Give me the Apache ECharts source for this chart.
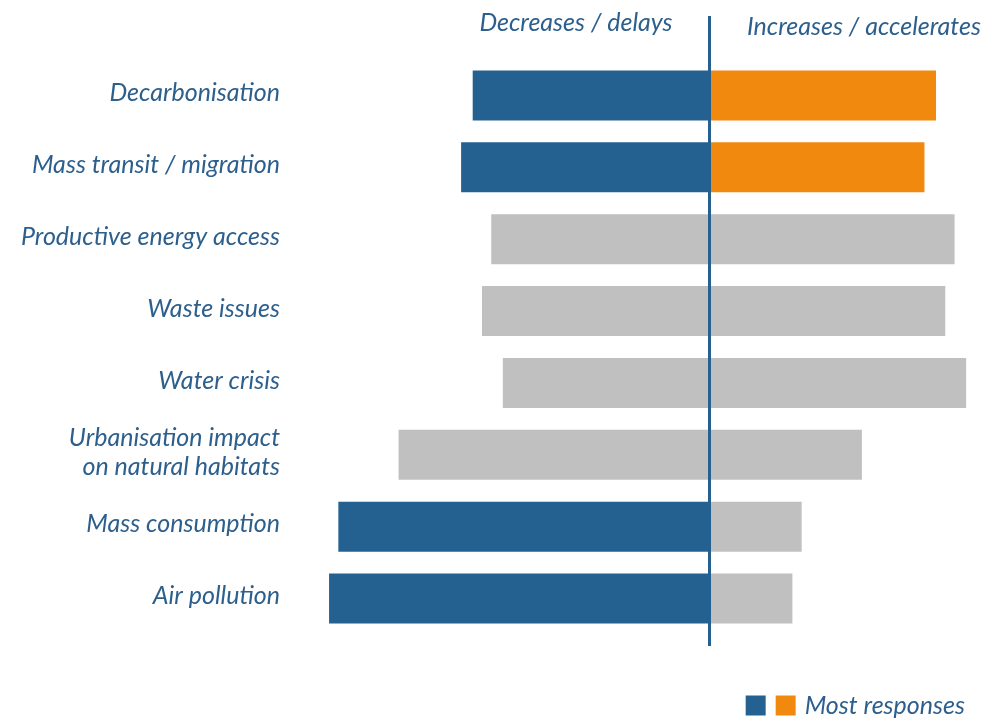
<!DOCTYPE html>
<html>
<head>
<meta charset="utf-8">
<script src="https://cdn.jsdelivr.net/npm/echarts@6/dist/echarts.min.js"></script>
<style>
html,body{margin:0;padding:0;background:#fff;}
#chart{width:987px;height:722px;}
</style>
</head>
<body>
<div id="chart"></div>
<script>
// Data (share of responses, %)
const categories = [
  'Decarbonisation',
  'Mass transit / migration',
  'Productive energy access',
  'Waste issues',
  'Water crisis',
  'Urbanisation impact\non natural habitats',
  'Mass consumption',
  'Air pollution'
];
const decreases = [51, 53.5, 47, 49, 44.5, 67, 80, 82];
const increases = [49, 46.5, 53, 51, 55.5, 33, 20, 18];
// 1 = "most responses" highlight
const decHighlight = [1, 1, 0, 0, 0, 0, 1, 1];
const incHighlight = [1, 1, 0, 0, 0, 0, 0, 0];
const headerLabels = ['Decreases / delays', 'Increases / accelerates'];
const legendLabel = 'Most responses';

const BLUE = '#246190';
const ORANGE = '#f0890e';
const GREY = '#c0c0c0';
const TEXT = '#2d5f8d';
const FONT = 'Lato';
const FS = 25;

const chart = echarts.init(document.getElementById('chart'), null, {renderer: 'canvas'});

const decData = decreases.map((v, i) => ({
  value: -v,
  itemStyle: {color: decHighlight[i] ? BLUE : GREY}
}));
const incData = increases.map((v, i) => ({
  value: v,
  itemStyle: {color: incHighlight[i] ? ORANGE : GREY}
}));

const option = {
  backgroundColor: '#ffffff',
  animation: false,
  textStyle: {fontFamily: FONT},
  grid: [
    {left: 292, width: 695, top: 62, bottom: 85, containLabel: false},
    {left: 292, width: 695, top: 16, bottom: 76, containLabel: false},
    {left: 292, width: 695, top: 57, bottom: 90, containLabel: false}
  ],
  xAxis: [
    {gridIndex: 0, type: 'value', min: -90, max: 60, show: false},
    {gridIndex: 1, type: 'value', min: -90, max: 60, show: false},
    {gridIndex: 2, type: 'value', min: -90, max: 60, show: false}
  ],
  yAxis: [
    {
      gridIndex: 0, type: 'category', data: categories, inverse: true,
      axisLine: {show: false}, axisTick: {show: false}, splitLine: {show: false},
      axisLabel: {show: false}
    },
    {gridIndex: 1, type: 'category', data: ['a'], show: false},
    {
      gridIndex: 2, type: 'category', data: categories, inverse: true,
      axisLine: {show: false}, axisTick: {show: false}, splitLine: {show: false},
      axisLabel: {
        margin: 12,
        color: TEXT,
        fontFamily: FONT,
        fontStyle: 'italic',
        fontSize: FS,
        lineHeight: 29,
        align: 'right'
      }
    }
  ],
  title: [
    {
      text: headerLabels[0], left: 571, top: 5, textAlign: 'center',
      textStyle: {color: TEXT, fontFamily: FONT, fontStyle: 'italic', fontWeight: 'normal', fontSize: FS}
    },
    {
      text: headerLabels[1], left: 859, top: 9, textAlign: 'center',
      textStyle: {color: TEXT, fontFamily: FONT, fontStyle: 'italic', fontWeight: 'normal', fontSize: FS}
    }
  ],
  legend: {
    show: true,
    right: 17, bottom: -1,
    data: [{name: 'hl1', icon: 'rect'}, {name: legendLabel, icon: 'rect'}],
    itemWidth: 20, itemHeight: 20, itemGap: 10,
    formatter: function (n) { return n === 'hl1' ? '' : n; },
    selectedMode: false,
    textStyle: {color: TEXT, fontFamily: FONT, fontStyle: 'italic', fontSize: FS, padding: [0, 0, 0, 4]}
  },
  series: [
    {name: 'Decreases', type: 'bar', xAxisIndex: 0, yAxisIndex: 0, stack: 'total', barWidth: 50, data: decData, z: 2},
    {name: 'Increases', type: 'bar', xAxisIndex: 0, yAxisIndex: 0, stack: 'total', barWidth: 50, data: incData, z: 2},
    {name: 'hl1', type: 'bar', xAxisIndex: 0, yAxisIndex: 0, data: [], itemStyle: {color: BLUE}},
    {name: legendLabel, type: 'bar', xAxisIndex: 0, yAxisIndex: 0, data: [], itemStyle: {color: ORANGE}},
    {
      name: 'centre', type: 'line', xAxisIndex: 1, yAxisIndex: 1,
      data: [], z: 5, silent: true,
      markLine: {
        symbol: 'none', silent: true,
        label: {show: false},
        lineStyle: {color: BLUE, width: 3, type: 'solid'},
        data: [{xAxis: 0}]
      }
    },
    {name: 'labels', type: 'bar', xAxisIndex: 2, yAxisIndex: 2, data: [], silent: true}
  ]
};
chart.setOption(option);
</script>
</body>
</html>
